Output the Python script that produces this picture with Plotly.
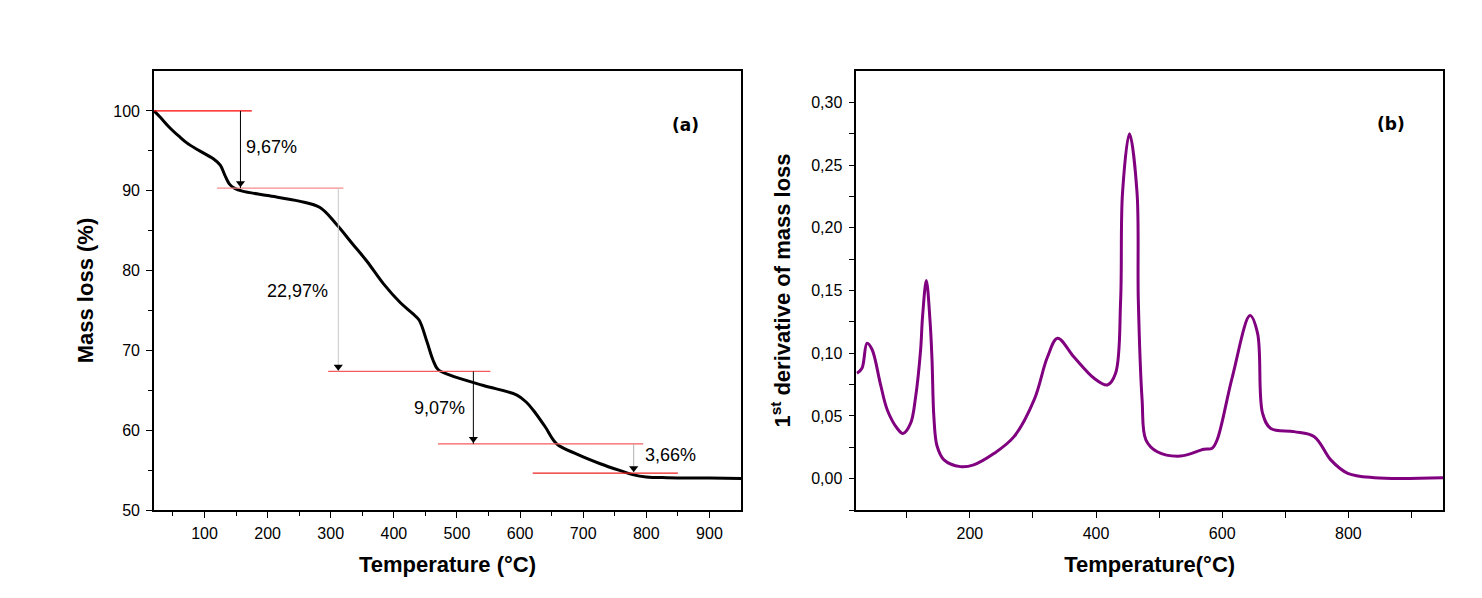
import plotly.graph_objects as go

# %% data - TGA curve (panel a)
tga_temp = [20, 30, 45, 60, 72, 90, 114, 125, 132, 140, 148, 160, 200, 250, 283, 309,
            335, 357, 384, 410, 430, 440, 452, 462, 470, 489, 542, 595, 610, 621, 640,
            658, 690, 727, 760, 780, 800, 833, 900, 950]
tga_mass = [100, 99.2, 97.9, 96.8, 96.0, 95.1, 94.0, 93.2, 92.0, 90.8, 90.3, 89.95, 89.4,
            88.7, 87.9, 85.8, 83.3, 81.2, 78.3, 76.0, 74.6, 73.8, 71.2, 68.8, 67.6, 66.9,
            65.6, 64.4, 63.5, 62.5, 60.4, 58.3, 57.0, 55.8, 54.9, 54.4, 54.15, 54.05, 54.0,
            53.95]

# step levels and the red guide lines
step_levels = [100, 90.33, 67.36, 58.29, 54.63]
step_x0 = [20, 120, 296, 470, 620]
step_x1 = [175, 320, 553, 795, 850]
step_colors = ['#ff0000', '#f98a8a', '#f45c5c', '#f45c5c', '#ee2020']

# arrows: x position, from, to, shaft colour
arrow_x = [157, 312, 526, 780]
arrow_from = [100, 90.33, 67.36, 58.29]
arrow_to = [90.33, 67.36, 58.29, 54.63]
arrow_colors = ['black', '#c8c8c8', 'black', '#b0b0b0']
head_offset = 0.6   # triangle marker sits just above the line it points at

loss_labels = ['9,67%', '22,97%', '9,07%', '3,66%']
loss_x = [206, 248, 473, 838]
loss_y = [95.5, 77.4, 62.75, 56.9]

# %% data - DTG curve (panel b)
dtg_temp = [21, 29, 37, 45, 58, 69, 85, 94, 106, 114, 122, 125, 131, 137, 140, 143, 148,
            159, 185, 206, 238, 270, 302, 323, 339, 365, 397, 418, 431, 439, 442, 453, 465,
            467, 473, 479, 497, 534, 571, 584, 592, 616, 644, 656, 664, 677, 714, 746, 772,
            799, 841, 950]
dtg_val = [0.084, 0.088, 0.108, 0.103, 0.076, 0.055, 0.040, 0.036, 0.044, 0.065, 0.103,
           0.129, 0.158, 0.125, 0.095, 0.049, 0.026, 0.015, 0.0096, 0.011, 0.020, 0.0335,
           0.063, 0.097, 0.112, 0.097, 0.080, 0.0747, 0.084, 0.1425, 0.228, 0.275, 0.228,
           0.1425, 0.063, 0.031, 0.0215, 0.018, 0.0234, 0.0242, 0.031, 0.081, 0.130, 0.116,
           0.052, 0.040, 0.0375, 0.0335, 0.015, 0.0043, 0.0008, 0.0008]

FONT = 'Liberation Sans, Arial, sans-serif'

fig = go.Figure()

fig.add_trace(go.Scatter(x=tga_temp, y=tga_mass, mode='lines',
                         line=dict(color='black', width=3, shape='spline'),
                         xaxis='x', yaxis='y', showlegend=False))

for lvl, a, b, c in zip(step_levels, step_x0, step_x1, step_colors):
    fig.add_trace(go.Scatter(x=[a, b], y=[lvl, lvl], mode='lines', line=dict(color=c, width=1.3),
                             xaxis='x', yaxis='y', showlegend=False))

for ax_, y0, y1, c in zip(arrow_x, arrow_from, arrow_to, arrow_colors):
    fig.add_trace(go.Scatter(x=[ax_, ax_], y=[y0, y1], mode='lines', line=dict(color=c, width=1),
                             xaxis='x', yaxis='y', showlegend=False))
    fig.add_trace(go.Scatter(x=[ax_], y=[y1 + head_offset], mode='markers',
                             marker=dict(symbol='triangle-down', size=8, color='black'),
                             xaxis='x', yaxis='y', showlegend=False))

for t, xx, yy in zip(loss_labels, loss_x, loss_y):
    fig.add_annotation(x=xx, y=yy, xref='x', yref='y', text=t, showarrow=False,
                       font=dict(family=FONT, size=18, color='black'))

fig.add_annotation(x=862, y=98.3, xref='x', yref='y', text='<b>(a)</b>', showarrow=False,
                   font=dict(family='DejaVu Sans, sans-serif', size=17, color='black'))

fig.add_trace(go.Scatter(x=dtg_temp, y=dtg_val, mode='lines',
                         line=dict(color='#800080', width=3, shape='spline'),
                         xaxis='x2', yaxis='y2', showlegend=False))

fig.add_annotation(x=868, y=0.283, xref='x2', yref='y2', text='<b>(b)</b>', showarrow=False,
                   font=dict(family='DejaVu Sans, sans-serif', size=17, color='black'))

axis_common = dict(showline=True, linecolor='black', linewidth=1.5, mirror=True, showgrid=False,
                   zeroline=False, ticks='outside', tickcolor='black', tickwidth=1.3, ticklen=6,
                   automargin=False, tickfont=dict(family=FONT, size=16, color='black'))
title_font = dict(family=FONT, size=22, color='black')

# page body has an 8px margin, so domains are shifted to land where the reference has them
fig.update_layout(
    width=1482, height=598,
    margin=dict(l=0, r=0, t=0, b=0),
    paper_bgcolor='white', plot_bgcolor='white',
    xaxis=dict(domain=[0.0985, 0.4946], range=[20, 950], tickvals=[100, 200, 300, 400, 500, 600, 700, 800, 900],
               minor=dict(ticks='outside', tickvals=[50, 150, 250, 350, 450, 550, 650, 750, 850], ticklen=4,
                          tickcolor='black', tickwidth=1.3),
               ticklabelstandoff=2,
               title=dict(text='<b>Temperature (°C)</b>', font=title_font, standoff=16),
               anchor='y', **axis_common),
    yaxis=dict(domain=[0.1605, 0.8946], range=[50, 105], tickvals=[50, 60, 70, 80, 90, 100],
               minor=dict(ticks='outside', tickvals=[55, 65, 75, 85, 95], ticklen=4,
                          tickcolor='black', tickwidth=1.3),
               ticklabelstandoff=3,
               title=dict(text='<b>Mass loss (%)</b>', font=title_font, standoff=14),
               anchor='x', **axis_common),
    xaxis2=dict(domain=[0.5724, 0.9683], range=[20, 950], tickvals=[200, 400, 600, 800],
                minor=dict(ticks='outside', tickvals=[100, 300, 500, 700, 900], ticklen=6,
                           tickcolor='black', tickwidth=1.3),
                ticklabelstandoff=2,
                title=dict(text='<b>Temperature(°C)</b>', font=title_font, standoff=16),
                anchor='y2', **axis_common),
    yaxis2=dict(domain=[0.1605, 0.8946], range=[-0.025, 0.325],
                tickvals=[0, 0.05, 0.10, 0.15, 0.20, 0.25, 0.30],
                ticktext=['0,00', '0,05', '0,10', '0,15', '0,20', '0,25', '0,30'],
                minor=dict(ticks='outside', tickvals=[-0.025, 0.025, 0.075, 0.125, 0.175, 0.225, 0.275],
                           ticklen=6, tickcolor='black', tickwidth=1.3),
                ticklabelstandoff=3,
                title=dict(text='<b>1<sup>st</sup> derivative of mass loss</b>', font=title_font, standoff=14),
                anchor='x2', **axis_common),
)

fig.write_html("out.html")
